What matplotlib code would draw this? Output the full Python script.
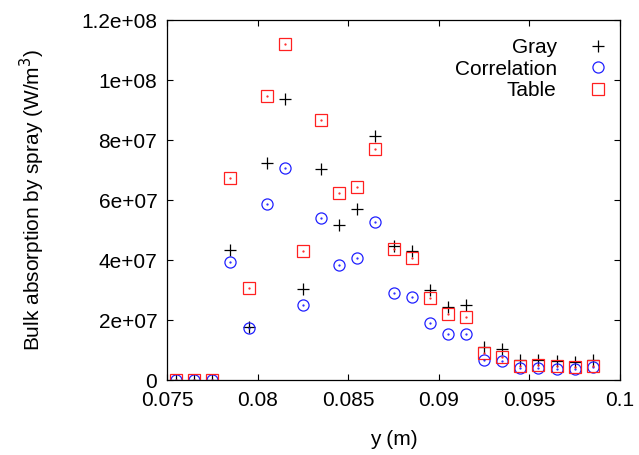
import matplotlib
matplotlib.use('Agg')
import matplotlib.pyplot as plt
from matplotlib.ticker import FuncFormatter, MultipleLocator

plt.rcParams['font.family'] = 'Liberation Sans'

# cell centres (m)
y_pos = [0.0755, 0.0765, 0.0775, 0.0785, 0.0795, 0.0805, 0.0815, 0.0825,
         0.0835, 0.0845, 0.0855, 0.0865, 0.0875, 0.0885, 0.0895, 0.0905,
         0.0915, 0.0925, 0.0935, 0.0945, 0.0955, 0.0965, 0.0975, 0.0985]

gray = [0, 0, 0, 4.32e7, 1.77e7, 7.23e7, 9.36e7, 3.04e7,
        7.04e7, 5.16e7, 5.69e7, 8.13e7, 4.46e7, 4.31e7, 2.99e7, 2.44e7,
        2.49e7, 1.09e7, 1.02e7, 6.7e6, 6.7e6, 6.4e6, 6.1e6, 6.7e6]

correlation = [0, 0, 0, 3.92e7, 1.73e7, 5.87e7, 7.08e7, 2.51e7,
               5.41e7, 3.83e7, 4.06e7, 5.28e7, 2.89e7, 2.76e7, 1.89e7, 1.53e7,
               1.54e7, 6.7e6, 6.4e6, 3.9e6, 4.1e6, 3.8e6, 3.6e6, 4.2e6]

table = [0, 0, 0, 6.72e7, 3.08e7, 9.46e7, 1.121e8, 4.3e7,
         8.68e7, 6.23e7, 6.43e7, 7.71e7, 4.37e7, 4.06e7, 2.74e7, 2.19e7,
         2.11e7, 8.9e6, 7.8e6, 4.8e6, 5.0e6, 4.7e6, 4.2e6, 4.8e6]

RED = '#ff2020'
BLUE = '#2020ff'

fig = plt.figure(figsize=(6.39, 4.55), dpi=100)
ax = fig.add_axes([167 / 639, 75 / 455, 453 / 639, 360 / 455])

ax.plot(y_pos, gray, linestyle='none', marker='+', markersize=9,
        markeredgewidth=0.9, color='black', label='Gray')
ax.plot(y_pos, correlation, linestyle='none', marker='o', markersize=8,
        markerfacecolor='none', markeredgewidth=0.9, color=BLUE, label='Correlation')
ax.plot(y_pos, table, linestyle='none', marker='s', markersize=8,
        markerfacecolor='none', markeredgewidth=0.9, color=RED, label='Table')

# little centre dots, gnuplot style
ax.plot(y_pos, correlation, linestyle='none', marker='.', markersize=1.2, color=BLUE)
ax.plot(y_pos, table, linestyle='none', marker='.', markersize=1.2, color=RED)

ax.set_xlim(0.075, 0.1)
ax.set_ylim(0, 1.2e8)
ax.xaxis.set_major_locator(MultipleLocator(0.005))
ax.yaxis.set_major_locator(MultipleLocator(2e7))
ax.xaxis.set_major_formatter(FuncFormatter(lambda v, p: '%g' % round(v, 6)))
ax.yaxis.set_major_formatter(FuncFormatter(lambda v, p: '%g' % v))

ax.tick_params(direction='in', length=4.5, width=0.8, top=True, right=True,
               labelsize=15, pad=7)
ax.tick_params(axis='x', pad=8)
for s in ax.spines.values():
    s.set_linewidth(0.9)

ax.set_xlabel('y (m)', fontsize=15, labelpad=14)
ax.set_ylabel('Bulk absorption by spray (W/m$^3$)', fontsize=15, labelpad=25)

ax.legend(loc='upper right', markerfirst=False, frameon=False, fontsize=15,
          labelspacing=0.12, handlelength=1.2, handletextpad=1.4,
          borderaxespad=0.3, bbox_to_anchor=(1.012, 0.99))

plt.savefig('out.png', dpi=100)
